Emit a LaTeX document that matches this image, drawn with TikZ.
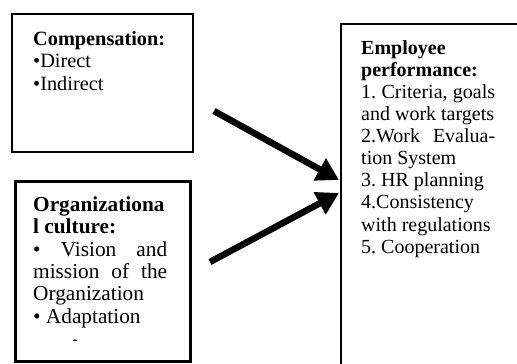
\documentclass[tikz,border=0pt]{standalone}
\usepackage{fontspec}
\setmainfont{Liberation Serif}
\usetikzlibrary{arrows.meta}

% body text sizes: Times-like serif on a tight line pitch, justified paragraphs
\newcommand\compfont{\fontsize{20.3}{22.2}\selectfont\parindent=0pt\frenchspacing}
\newcommand\cultfont{\fontsize{21.3}{22.4}\selectfont\parindent=0pt\frenchspacing}
\newcommand\perffont{\fontsize{20}{22.1}\selectfont\parindent=0pt\frenchspacing}
% fixes the height of the first line so its baseline sits 16pt below the node top
\newcommand\firstline{\rule{0pt}{16pt}}

\begin{document}
\begin{tikzpicture}[x=1pt,y=-1pt,
  box/.style={draw=black, inner sep=0pt, anchor=north west},
  txt/.style={anchor=north west, inner sep=0pt, align=justify},
  flow/.style={line width=6.5pt, -{Triangle[length=22pt,width=24pt]}},
]
\useasboundingbox (0,0) rectangle (517,364);
\clip (0,0) rectangle (517,364);

% frames
\node[box, line width=2.4pt, minimum width=181pt, minimum height=138pt] (comp) at (11,13) {};
\node[box, line width=3pt, minimum width=175pt, minimum height=180pt] (cult) at (14,180) {};
\node[box, line width=2.2pt, minimum width=200pt, minimum height=360pt] (perf) at (340,23) {};

% texts
\node[txt, align=left, text width=150pt, font=\compfont] (comp-t) at (33,29.5)
  {\firstline\textbf{Compensation:}\\•Direct\\•Indirect};

\node[txt, text width=134pt, font=\cultfont] (cult-t) at (33,195)
  {\firstline\textbf{Organizationa}\newline\textbf{l culture:}\newline
   • Vision and\linebreak mission of the\linebreak Organization\newline
   • Adaptation};

% the next bullet is cut off, only its upper rim shows
\begin{scope}
  \clip (15,181) rectangle (188,340.5);
  \node[anchor=base, inner sep=0pt, font=\cultfont] (cult-tail) at (75,349.5) {•};
\end{scope}

\node[txt, text width=134pt, font=\perffont] (perf-t) at (361,38)
  {\firstline\textbf{Employee}\newline\textbf{performance:}\newline
   1. Criteria, goals\linebreak and work targets\newline
   2.Work Evalua-\linebreak tion System\newline
   3. HR planning\newline
   4.Consistency\newline
   with regulations\newline
   5. Cooperation};

% connectors into the performance frame
\coordinate (s1) at (214,111);
\coordinate (s2) at (210,262);
\path (perf.north west) ++(-1,157) coordinate (e1);
\path (perf.north west) ++(-1,170) coordinate (e2);
\draw[flow] (s1) -- (e1);
\draw[flow] (s2) -- (e2);
\end{tikzpicture}
\end{document}
